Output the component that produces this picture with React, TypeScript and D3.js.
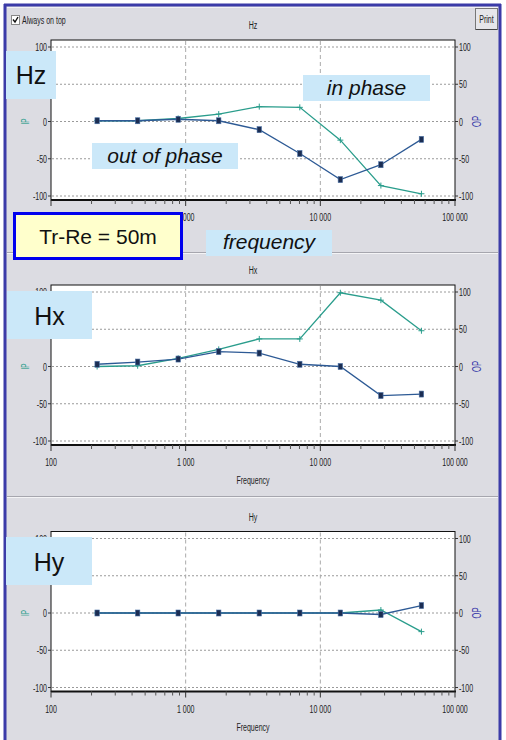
import React from 'react'
import * as d3 from 'd3'

// transmitter frequencies (Hz)
const frequencies = [220, 440, 880, 1760, 3520, 7040, 14080, 28160, 56320]

const hzInPhase = [1, 1, 4, 10, 20, 19, -25, -86, -97]
const hzOutPhase = [1, 1, 3, 1, -11, -43, -78, -58, -24]
const hxInPhase = [0, 1, 11, 23, 37, 37, 99, 89, 48]
const hxOutPhase = [3, 6, 10, 20, 18, 3, 0, -39, -37]
const hyInPhase = [0, 0, 0, 0, 0, 0, 0, 4, -25]
const hyOutPhase = [0, 0, 0, 0, 0, 0, 0, -2, 10]

const yTicks = [100, 50, 0, -50, -100]
const xTickValues = [100, 1000, 10000, 100000]
const xTickLabels = ['100', '1 000', '10 000', '100 000']
const gridX = [1000, 10000]

const TEAL = '#2a9d8c'
const BLUE = '#2d5a95'
const MARK = '#1b2d52'
const BG = '#dcdce2'
const LABEL_BG = '#cbe8f9'
const SMALL = '"Liberation Sans", Arial, sans-serif'
const BIG = '"Liberation Sans", Arial, sans-serif'

const x = d3.scaleLog().domain([100, 100000]).range([51, 455])

// old-style narrow UI text: tall glyphs squeezed horizontally
const Small = (props: {
  x: number
  y: number
  anchor?: 'start' | 'middle' | 'end'
  fill?: string
  size?: number
  rotate?: boolean
  children: React.ReactNode
}) => (
  <text
    transform={`translate(${props.x},${props.y})${props.rotate ? ' rotate(-90)' : ''} scale(0.64,1)`}
    fontSize={props.size ?? 11}
    fontFamily={SMALL}
    textAnchor={props.anchor ?? 'start'}
    fill={props.fill ?? '#222'}
  >
    {props.children}
  </text>
)

interface IPanelProps {
  top: number
  title: string
  ip: number[]
  op: number[]
}

const Panel = ({ top, title, ip, op }: IPanelProps) => {
  const y = d3.scaleLinear().domain([-100, 100]).range([top + 156, top + 7])
  const bottom = top + 160
  const line = d3
    .line<number>()
    .x((_, i) => x(frequencies[i]))
    .y((d) => y(d))
  const minor = x.ticks().filter((t) => !xTickValues.includes(t))
  return (
    <g>
      <Small x={253} y={top - 11} anchor="middle">
        {title}
      </Small>
      <rect x={51} y={top} width={404} height={160} fill="#fff" />
      {yTicks.map((t) => (
        <line key={'g' + t} x1={52} x2={454} y1={y(t)} y2={y(t)} stroke="#9a9a9a" strokeDasharray="2,2" />
      ))}
      {gridX.map((t) => (
        <line key={'v' + t} x1={x(t)} x2={x(t)} y1={top + 1} y2={bottom - 1} stroke="#aaa" strokeDasharray="4,3" />
      ))}
      <rect x={51} y={top} width={404} height={160} fill="none" stroke="#111" strokeWidth={1} />
      <line x1={51} x2={456} y1={bottom} y2={bottom} stroke="#111" strokeWidth={2} />
      {/* value axes on both sides */}
      {yTicks.map((t) => (
        <g key={'l' + t}>
          <line x1={48} x2={51} y1={y(t)} y2={y(t)} stroke="#333" />
          <Small x={47} y={y(t) + 4} anchor="end">
            {t}
          </Small>
          <line x1={455} x2={458} y1={y(t)} y2={y(t)} stroke="#333" />
          <Small x={459} y={y(t) + 4}>
            {t}
          </Small>
        </g>
      ))}
      <Small x={29} y={y(0)} anchor="middle" fill={TEAL} size={10} rotate>
        IP
      </Small>
      <Small x={481} y={y(0)} anchor="middle" fill="#3434a8" size={12} rotate>
        OP
      </Small>
      {/* frequency axis */}
      {xTickValues.map((t, i) => (
        <g key={'x' + t}>
          <line x1={x(t)} x2={x(t)} y1={bottom} y2={bottom + 6} stroke="#333" />
          <Small x={x(t)} y={bottom + 21} anchor="middle">
            {xTickLabels[i]}
          </Small>
        </g>
      ))}
      {minor.map((t) => (
        <line key={'m' + t} x1={x(t)} x2={x(t)} y1={bottom} y2={bottom + 4} stroke="#555" />
      ))}
      <Small x={253} y={bottom + 39} anchor="middle">
        Frequency
      </Small>
      {/* series */}
      <path d={line(ip) ?? ''} fill="none" stroke={TEAL} strokeWidth={1.3} />
      {ip.map((v, i) => (
        <path
          key={'ip' + i}
          d={`M${x(frequencies[i]) - 3},${y(v)}h6M${x(frequencies[i])},${y(v) - 3}v6`}
          stroke={TEAL}
          strokeWidth={1}
        />
      ))}
      <path d={line(op) ?? ''} fill="none" stroke={BLUE} strokeWidth={1.3} />
      {op.map((v, i) => (
        <rect
          key={'op' + i}
          x={x(frequencies[i]) - 2.2}
          y={y(v) - 3}
          width={4.4}
          height={6}
          fill={MARK}
          stroke="#4a70a5"
          strokeWidth={0.6}
        />
      ))}
    </g>
  )
}

const Tag = (props: { x: number; y: number; w: number; h: number; text: string; italic?: boolean; base: number }) => (
  <g>
    <rect x={props.x} y={props.y} width={props.w} height={props.h} fill={LABEL_BG} />
    <text
      x={props.x + props.w / 2}
      y={props.base}
      fontSize={props.italic ? 21 : 25}
      fontStyle={props.italic ? 'italic' : 'normal'}
      fontFamily={BIG}
      textAnchor="middle"
      fill="#111"
    >
      {props.text}
    </text>
  </g>
)

const App = () => {
  return (
    <svg width={506} height={740} style={{ position: 'absolute', left: 0, top: 0, display: 'block' }}>
      <rect width={506} height={740} fill="#fff" />
      <rect x={4} y={4} width={497} height={736} fill={BG} />
      <line x1={5} x2={5} y1={4} y2={740} stroke="#3b3ba8" strokeWidth={3} />
      <line x1={500} x2={500} y1={4} y2={740} stroke="#3b3ba8" strokeWidth={3} />
      <line x1={4} x2={501} y1={5} y2={5} stroke="#3b3ba8" strokeWidth={3} />
      <line x1={7} x2={498} y1={7.5} y2={7.5} stroke="#f2f2f4" />

      {/* toolbar */}
      <rect x={11.5} y={15.5} width={8} height={9} fill="#fff" stroke="#888" />
      <path d="M13,19.5 l2,2.5 l3,-5" fill="none" stroke="#111" strokeWidth={1.4} />
      <Small x={22} y={24}>
        Always on top
      </Small>
      <rect x={475.5} y={8.5} width={22} height={21} fill="#e6e6ea" stroke="#777" />
      <line x1={476} x2={497} y1={29.5} y2={29.5} stroke="#444" />
      <Small x={486.5} y={23} anchor="middle">
        Print
      </Small>

      {/* panel separators */}
      <line x1={7} x2={498} y1={252.5} y2={252.5} stroke="#a6a6ae" />
      <line x1={7} x2={498} y1={253.5} y2={253.5} stroke="#f4f4f6" />
      <line x1={7} x2={498} y1={496.5} y2={496.5} stroke="#a6a6ae" />
      <line x1={7} x2={498} y1={497.5} y2={497.5} stroke="#f4f4f6" />

      <Panel top={40} title="Hz" ip={hzInPhase} op={hzOutPhase} />
      <Panel top={285} title="Hx" ip={hxInPhase} op={hxOutPhase} />
      <Panel top={531.5} title="Hy" ip={hyInPhase} op={hyOutPhase} />

      {/* annotations */}
      <Tag x={6} y={51} w={50} h={48} text="Hz" base={84} />
      <Tag x={303} y={75} w={127} h={26} text="in phase" italic base={95} />
      <Tag x={92} y={143} w={146} h={26} text="out of phase" italic base={163} />
      <Tag x={206} y={230} w={126} h={26} text="frequency" italic base={249} />
      <rect x={14.5} y={213.5} width={167} height={45} fill="#ffffcc" stroke="#0000ee" strokeWidth={3} />
      <text x={98} y={244} fontSize={21} fontFamily={BIG} textAnchor="middle" fill="#111">
        Tr-Re = 50m
      </text>
      <Tag x={7} y={291} w={85} h={48} text="Hx" base={325} />
      <Tag x={6} y={537} w={86} h={48} text="Hy" base={571} />
    </svg>
  )
}

export default App
